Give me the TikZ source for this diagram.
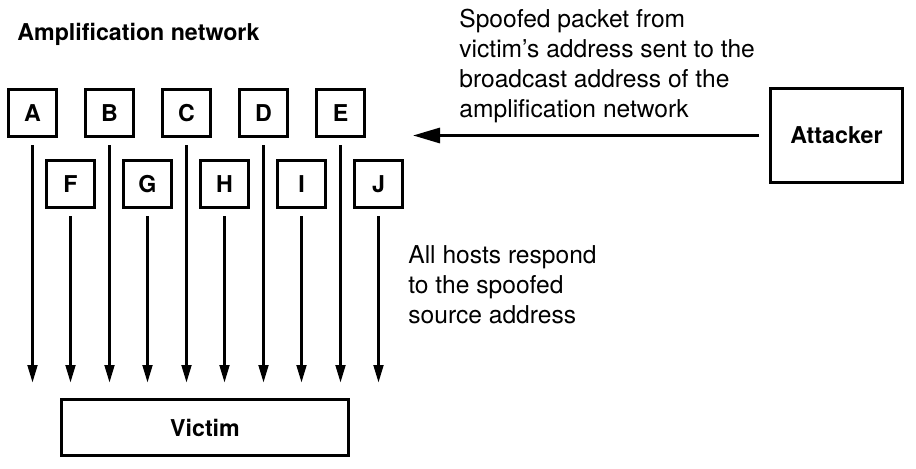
\documentclass[tikz,border=0pt]{standalone}
\usepackage{fontspec}
\setmainfont{TeX Gyre Heros}
\usetikzlibrary{positioning}
\usetikzlibrary{calc}
\usetikzlibrary{arrows.meta}
\tikzset{
	hote/.style={draw,line width=1.8pt,minimum width=0.95cm,minimum height=0.93cm,inner sep=0pt,font=\fontsize{13.2}{16}\selectfont\bfseries},
	reponse/.style={line width=1.8pt,-{Triangle[length=0.36cm,width=0.19cm]},shorten <=0.15cm}
}

\begin{document}
\begin{tikzpicture}[x=0.02cm,y=-0.02cm,font=\fontsize{14}{17}\selectfont]
	
	\def\pas{77};
	\def\yA{113};
	\def\yF{184};
	\def\yFin{383};
	\useasboundingbox (0,0) rectangle (916,469);
	
	%Titre
	\node[anchor=base west,inner sep=0pt,font=\fontsize{13.2}{16}\selectfont\bfseries] (titre) at (17,41) {Amplification network};
	
	%Hotes du reseau, rangee du haut
	\foreach \nom [count=\i from 0] in {A,B,C,D,E} {
		\node[hote] (\nom) at (32.5+\i*\pas,\yA) {\nom};
		\coordinate (fin\nom) at (32.5+\i*\pas,\yFin);
		\draw[reponse] (\nom) -- (fin\nom);
	}
	%Hotes du reseau, rangee du bas
	\foreach \nom [count=\i from 0] in {F,G,H,I,J} {
		\node[hote] (\nom) at (70.5+\i*\pas,\yF) {\nom};
		\coordinate (fin\nom) at (70.5+\i*\pas,\yFin);
		\draw[reponse] (\nom) -- (fin\nom);
	}
	
	%Victime et attaquant
	\node[hote,minimum width=5.73cm,minimum height=1.11cm] (victime) at (205,427.5) {Victim};
	\node[hote,minimum width=2.63cm,minimum height=1.89cm] (attaquant) at (836.5,135.5) {Attacker};
	
	%Paquet usurpe
	\coordinate (cible) at (413,135.5);
	\draw[line width=1.8pt,-{Triangle[length=0.54cm,width=0.3cm]},shorten <=0.2cm] (attaquant) -- (cible);
	
	%Textes
	\node[anchor=north west,inner sep=0pt,align=left] (envoi) at (459,9) {Spoofed packet from\\victim’s address sent to the\\broadcast address of the\\amplification network};
	\node[anchor=north west,inner sep=0pt,align=left] (retour) at (408,245) {All hosts respond\\to the spoofed\\source address};
	
\end{tikzpicture}
\end{document}
